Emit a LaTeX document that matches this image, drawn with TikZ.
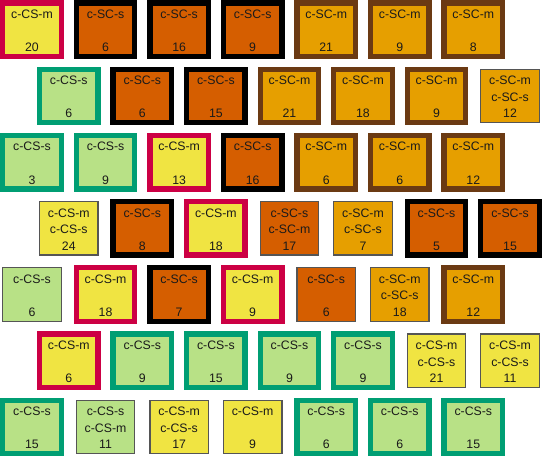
\documentclass[tikz,border=0pt]{standalone}
\usepackage{fontspec}
\setmainfont{Liberation Sans}
\definecolor{cY}{HTML}{F0E442}
\definecolor{cV}{HTML}{D55E00}
\definecolor{cO}{HTML}{E69F00}
\definecolor{cG}{HTML}{B8E186}
\definecolor{kR}{HTML}{CC0044}
\definecolor{kG}{HTML}{009E73}
\definecolor{kB}{HTML}{6B3A13}
\definecolor{kT}{HTML}{555555}
\definecolor{txt}{HTML}{1A1A1A}
\tikzset{
  box/.style={rectangle,minimum width=58.5pt,minimum height=53.5pt,inner sep=0pt},
  fY/.style={fill=cY}, fV/.style={fill=cV}, fO/.style={fill=cO}, fG/.style={fill=cG},
  bR/.style={draw=kR,line width=5.3pt},
  bK/.style={draw=black,line width=5.3pt},
  bG/.style={draw=kG,line width=5.3pt},
  bB/.style={draw=kB,line width=5.3pt},
  bT/.style={draw=kT,line width=1.3pt},
  lbl/.style={anchor=base,inner sep=0pt,font=\fontsize{12.3pt}{14pt}\selectfont,text=txt}
}
\newcommand\cell[7]{%
  \pgfmathsetmacro\cx{32+36.775*mod(#3-1,2)+73.55*(#2-1)}%
  \pgfmathsetmacro\cy{-29.7-66.2*(#3-1)}%
  \node[box,#4] (#1) at (\cx pt,\cy pt) {};
  \node[lbl] (#1-a) at ([yshift=11.3pt]#1.center) {#5};
  \if\relax\detokenize{#6}\relax\else
  \node[lbl] (#1-b) at ([yshift=-5.3pt]#1.center) {#6};\fi
  \node[lbl] (#1-n) at ([yshift=-22pt]#1.center) {#7};
}
\begin{document}
\begin{tikzpicture}
\useasboundingbox (0,0) rectangle (544pt,-459pt);
% row 1
\cell{a1}{1}{1}{fY,bR}{c-CS-m}{}{20}
\cell{a2}{2}{1}{fV,bK}{c-SC-s}{}{6}
\cell{a3}{3}{1}{fV,bK}{c-SC-s}{}{16}
\cell{a4}{4}{1}{fV,bK}{c-SC-s}{}{9}
\cell{a5}{5}{1}{fO,bB}{c-SC-m}{}{21}
\cell{a6}{6}{1}{fO,bB}{c-SC-m}{}{9}
\cell{a7}{7}{1}{fO,bB}{c-SC-m}{}{8}
% row 2
\cell{b1}{1}{2}{fG,bG}{c-CS-s}{}{6}
\cell{b2}{2}{2}{fV,bK}{c-SC-s}{}{6}
\cell{b3}{3}{2}{fV,bK}{c-SC-s}{}{15}
\cell{b4}{4}{2}{fO,bB}{c-SC-m}{}{21}
\cell{b5}{5}{2}{fO,bB}{c-SC-m}{}{18}
\cell{b6}{6}{2}{fO,bB}{c-SC-m}{}{9}
\cell{b7}{7}{2}{fO,bT}{c-SC-m}{c-SC-s}{12}
% row 3
\cell{c1}{1}{3}{fG,bG}{c-CS-s}{}{3}
\cell{c2}{2}{3}{fG,bG}{c-CS-s}{}{9}
\cell{c3}{3}{3}{fY,bR}{c-CS-m}{}{13}
\cell{c4}{4}{3}{fV,bK}{c-SC-s}{}{16}
\cell{c5}{5}{3}{fO,bB}{c-SC-m}{}{6}
\cell{c6}{6}{3}{fO,bB}{c-SC-m}{}{6}
\cell{c7}{7}{3}{fO,bB}{c-SC-m}{}{12}
% row 4
\cell{d1}{1}{4}{fY,bT}{c-CS-m}{c-CS-s}{24}
\cell{d2}{2}{4}{fV,bK}{c-SC-s}{}{8}
\cell{d3}{3}{4}{fY,bR}{c-CS-m}{}{18}
\cell{d4}{4}{4}{fV,bT}{c-SC-s}{c-SC-m}{17}
\cell{d5}{5}{4}{fO,bT}{c-SC-m}{c-SC-s}{7}
\cell{d6}{6}{4}{fV,bK}{c-SC-s}{}{5}
\cell{d7}{7}{4}{fV,bK}{c-SC-s}{}{15}
% row 5
\cell{e1}{1}{5}{fG,bT}{c-CS-s}{}{6}
\cell{e2}{2}{5}{fY,bR}{c-CS-m}{}{18}
\cell{e3}{3}{5}{fV,bK}{c-SC-s}{}{7}
\cell{e4}{4}{5}{fY,bR}{c-CS-m}{}{9}
\cell{e5}{5}{5}{fV,bT}{c-SC-s}{}{6}
\cell{e6}{6}{5}{fO,bT}{c-SC-m}{c-SC-s}{18}
\cell{e7}{7}{5}{fO,bB}{c-SC-m}{}{12}
% row 6
\cell{f1}{1}{6}{fY,bR}{c-CS-m}{}{6}
\cell{f2}{2}{6}{fG,bG}{c-CS-s}{}{9}
\cell{f3}{3}{6}{fG,bG}{c-CS-s}{}{15}
\cell{f4}{4}{6}{fG,bG}{c-CS-s}{}{9}
\cell{f5}{5}{6}{fG,bG}{c-CS-s}{}{9}
\cell{f6}{6}{6}{fY,bT}{c-CS-m}{c-CS-s}{21}
\cell{f7}{7}{6}{fY,bT}{c-CS-m}{c-CS-s}{11}
% row 7
\cell{g1}{1}{7}{fG,bG}{c-CS-s}{}{15}
\cell{g2}{2}{7}{fG,bT}{c-CS-s}{c-CS-m}{11}
\cell{g3}{3}{7}{fY,bT}{c-CS-m}{c-CS-s}{17}
\cell{g4}{4}{7}{fY,bT}{c-CS-m}{}{9}
\cell{g5}{5}{7}{fG,bG}{c-CS-s}{}{6}
\cell{g6}{6}{7}{fG,bG}{c-CS-s}{}{6}
\cell{g7}{7}{7}{fG,bG}{c-CS-s}{}{15}
\end{tikzpicture}
\end{document}
